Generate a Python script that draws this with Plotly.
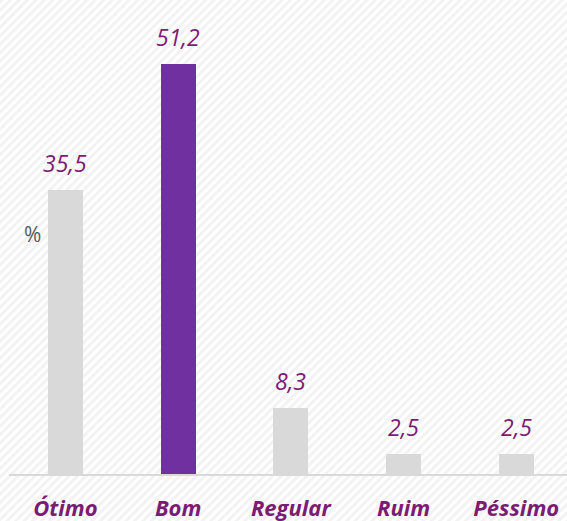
import plotly.graph_objects as go
import base64

categories = ["Ótimo", "Bom", "Regular", "Ruim", "Péssimo"]
values = [35.5, 51.2, 8.3, 2.5, 2.5]
bar_colors = ["#D9D9D9", "#7030A0", "#D9D9D9", "#D9D9D9", "#D9D9D9"]
value_labels = [f"{v:.1f}".replace(".", ",") for v in values]
unit_label = "%"

W, H = 567, 521
ML, MR, MT, MB = 9, 0, 0, 47
PW, PH = W - ML - MR, H - MT - MB

PURPLE_TXT = "#7B1C74"

svg = f'''<svg xmlns="http://www.w3.org/2000/svg" width="{W}" height="{H}" viewBox="0 0 {W} {H}" preserveAspectRatio="none">
<defs><pattern id="p" width="6" height="6" patternUnits="userSpaceOnUse" patternTransform="rotate(45)">
<rect width="6" height="6" fill="#ffffff"/><rect width="2.8" height="6" fill="#f2f2f2"/></pattern></defs>
<rect width="{W}" height="{H}" fill="url(#p)"/></svg>'''
svg_uri = "data:image/svg+xml;base64," + base64.b64encode(svg.encode()).decode()

fig = go.Figure()
fig.add_trace(go.Bar(
    x=categories, y=values, marker=dict(color=bar_colors, line=dict(width=0)),
    width=0.31, hoverinfo="skip",
))

for c, v, t in zip(categories, values, value_labels):
    fig.add_annotation(x=c, y=v, text=t, showarrow=False, yanchor="middle", yshift=27,
                       font=dict(family="Open Sans", size=23, color=PURPLE_TXT, style="italic"))

fig.add_annotation(xref="paper", yref="paper", x=(32 - ML) / PW, y=1 - (234 - MT) / PH,
                   text=unit_label, showarrow=False, xanchor="center", yanchor="middle",
                   font=dict(family="Open Sans", size=21, color="#595959"))

fig.add_layout_image(dict(source=svg_uri, xref="paper", yref="paper",
                          x=-ML / PW, y=1 + MT / PH, sizex=W / PW, sizey=H / PH,
                          xanchor="left", yanchor="top", sizing="stretch", layer="below"))

fig.update_layout(
    width=W, height=H, margin=dict(l=ML, r=MR, t=MT, b=MB, pad=0),
    paper_bgcolor="white", plot_bgcolor="rgba(0,0,0,0)",
    showlegend=False, bargap=0,
    xaxis=dict(range=[-0.5, 4.45], showgrid=False, zeroline=False,
               showline=True, linecolor="#D9D9D9", linewidth=2, ticks="",
               ticklabelstandoff=14,
               tickfont=dict(family="Open Sans", size=22, color=PURPLE_TXT,
                             weight="bold", style="italic")),
    yaxis=dict(range=[0, PH / 8.0], visible=False, showgrid=False, zeroline=False),
)

fig.write_html("out.html", config={"displayModeBar": False},
               post_script="document.body.style.margin='0';document.body.style.overflow='hidden';")
